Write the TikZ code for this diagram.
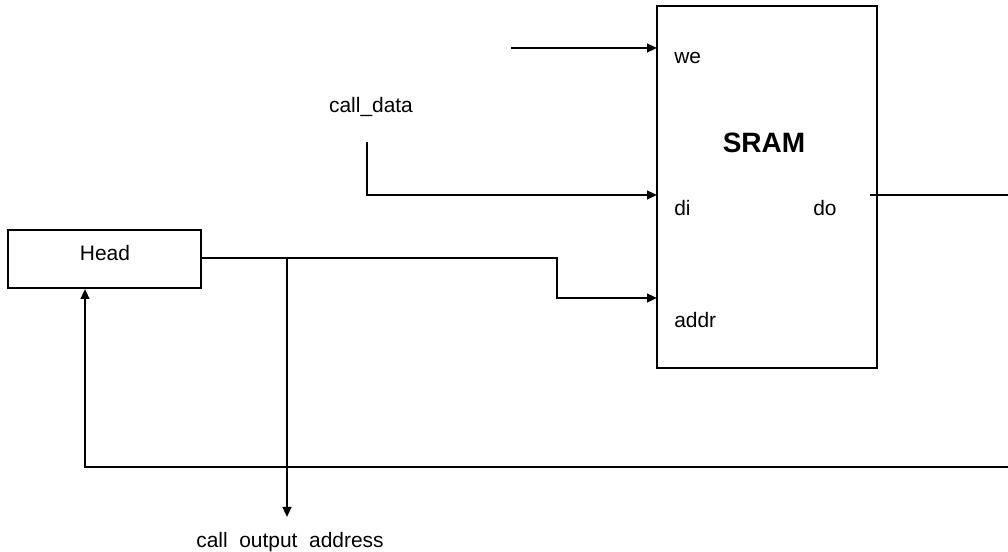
\documentclass[tikz,border=0pt]{standalone}
\usepackage{fontspec}
\setmainfont{Liberation Sans}
\usetikzlibrary{arrows.meta}
\begin{document}
\begin{tikzpicture}[x=0.75pt,y=-0.75pt,
  wire/.style={line width=1.6pt},
  arr/.style={wire,-{Triangle[length=7.5pt,width=6.5pt]}},
  lbl/.style={font=\fontsize{15.7}{18}\selectfont,inner sep=0pt},
  blk/.style={draw,line width=1.5pt,inner sep=0pt}]
\useasboundingbox (0,0) rectangle (1008,552);
% SRAM block
\node[blk,minimum width=220*0.75pt,minimum height=362*0.75pt] (sram) at (767,187) {};
\node[font=\bfseries\fontsize{21}{24}\selectfont] (sramlbl) at (764,143) {SRAM};
\node[lbl,anchor=west] (we) at (674,58) {we};
\node[lbl,anchor=west] (di) at (674,208) {di};
\node[lbl,anchor=west] (do) at (813,208) {do};
\node[lbl,anchor=west] (addr) at (674,320) {addr};
% Head block
\node[blk,minimum width=193*0.75pt,minimum height=58*0.75pt,lbl] (head) at (104.5,259) {};
\node[lbl] (headlbl) at (105,253) {Head};
% labels
\node[lbl] (cdata) at (371,107) {call\_data};
\node[lbl,anchor=base] (caddr) at (290,547) {call\phantom{\_}output\phantom{\_}address};
% coordinates
\coordinate (weS) at (511,48);
\coordinate (weE) at (657,48);
\coordinate (cdS) at (367,142);
\coordinate (diE) at (657,195);
\coordinate (doS) at (870,195);
\coordinate (doE) at (1008,195);
\coordinate (hO) at (201,258);
\coordinate (br) at (287,258);
\coordinate (adE) at (657,298);
\coordinate (caE) at (287,517);
\coordinate (fbS) at (1008,467);
\coordinate (hIn) at (85,289);
% wires
\draw[arr] (weS) -- (weE);
\draw[arr] (cdS) |- (diE);
\draw[wire] (doS) -- (doE);
\draw[arr] (hO) -- (557,258) |- (adE);
\draw[arr] (br) -- (caE);
\draw[arr] (fbS) -| (hIn);
\end{tikzpicture}
\end{document}
